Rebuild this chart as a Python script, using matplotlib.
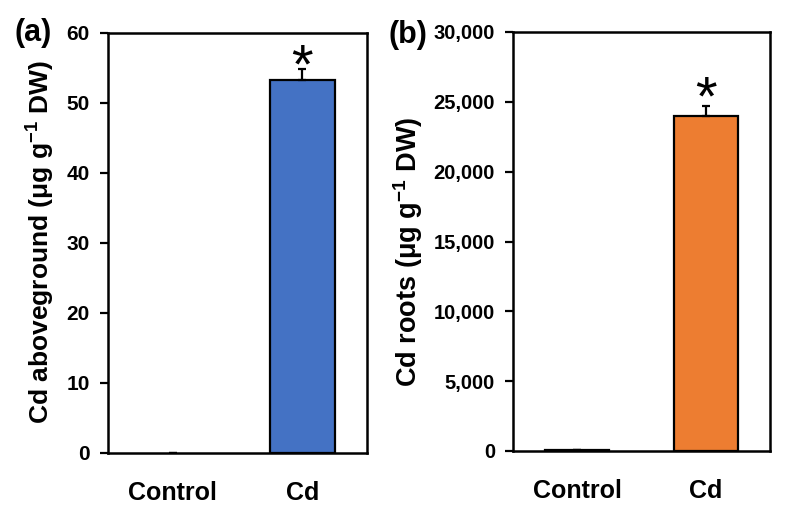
import matplotlib
matplotlib.use("Agg")
import matplotlib.pyplot as plt
from matplotlib.ticker import FuncFormatter

categories = ["Control", "Cd"]
above_vals = [0.0, 53.3]
above_err = [0.0, 1.6]
roots_vals = [80.0, 23950.0]
roots_err = [0.0, 750.0]
above_ticks = [0, 10, 20, 30, 40, 50, 60]
roots_ticks = [0, 5000, 10000, 15000, 20000, 25000, 30000]

plt.rcParams['font.family'] = ['Liberation Sans', 'DejaVu Sans']
plt.rcParams['font.weight'] = 'bold'
plt.rcParams['mathtext.fontset'] = 'custom'
plt.rcParams['mathtext.rm'] = 'Liberation Sans:bold'
plt.rcParams['mathtext.bf'] = 'Liberation Sans:bold'

fig = plt.figure(figsize=(7.88, 5.12), dpi=100)
W, H = 788, 512
ax1 = fig.add_axes([108 / W, 1 - 453 / H, 259 / W, 420 / H])
ax2 = fig.add_axes([513 / W, 1 - 451 / H, 257 / W, 419 / H])

def style(ax, vals, errs, color, ticks, ylim, fmt, ysize):
    x = list(range(len(categories)))
    bars = ax.bar(x, vals, width=0.5, color=color, edgecolor='black', linewidth=1.6, zorder=2)
    for b, v in zip(bars, vals):
        if v == 0:
            b.set_linewidth(0)
    ax.errorbar(x, vals, yerr=[[0] * len(errs), errs], fmt='none', ecolor='black',
                elinewidth=1.6, capsize=3, capthick=1.6, zorder=3)
    ax.set_xlim(-0.5, 1.5)
    ax.set_ylim(*ylim)
    ax.set_yticks(ticks)
    ax.yaxis.set_major_formatter(FuncFormatter(fmt))
    ax.set_xticks(x)
    ax.set_xticklabels(categories, fontsize=18, fontweight='bold')
    ax.tick_params(axis='x', length=0, pad=20)
    ax.tick_params(axis='y', direction='out', length=6, width=1.6, labelsize=ysize, pad=7)
    for lbl in ax.get_yticklabels():
        lbl.set_fontweight('bold')
    for s in ax.spines.values():
        s.set_linewidth(1.8)

style(ax1, above_vals, above_err, '#4472C4', above_ticks, (0, 60), lambda v, p: f"{int(v)}", 15)
style(ax2, roots_vals, roots_err, '#ED7D31', roots_ticks, (0, 30000), lambda v, p: f"{int(v):,}", 14.5)

ax1.set_ylabel("Cd aboveground (μg g$^{-1}$ DW)", fontsize=19, fontweight='bold', va='center')
ax2.set_ylabel("Cd roots (μg g$^{-1}$ DW)", fontsize=19.5, fontweight='bold', va='center')
ax1.yaxis.set_label_coords((40 - 108) / 259, (453 - 242) / 420)
ax2.yaxis.set_label_coords((408 - 513) / 257, (451 - 252) / 419)

ax1.text(1, 55.0, "*", ha='center', va='center', fontsize=40, fontweight='normal')
ax2.text(1, 25100, "*", ha='center', va='center', fontsize=40, fontweight='normal')

fig.text(14 / W, 1 - 33 / H, "(a)", fontsize=22, fontweight='bold', va='center', ha='left')
fig.text(388 / W, 1 - 35 / H, "(b)", fontsize=22, fontweight='bold', va='center', ha='left')

fig.savefig("out.png", dpi=100)
